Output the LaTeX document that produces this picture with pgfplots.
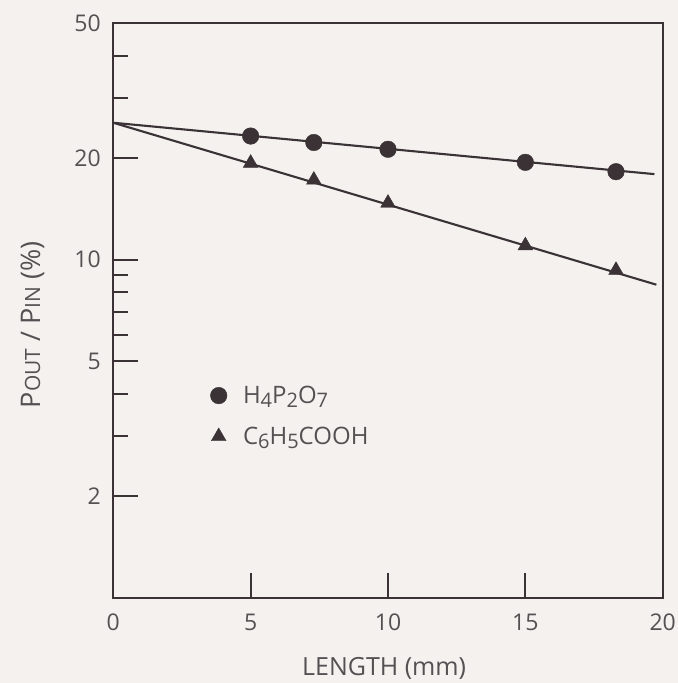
\documentclass[border=0pt]{standalone}
\usepackage{pgfplots}
\pgfplotsset{compat=1.18}
\usepackage{fontspec}
\setmainfont{Open Sans}

\definecolor{paper}{HTML}{F4F1EF}
\definecolor{ink}{HTML}{3A3235}
\definecolor{txt}{HTML}{555152}
\newcommand{\tickfont}{\fontsize{23bp}{27bp}\selectfont}
\newcommand{\lblfont}{\fontsize{25bp}{29bp}\selectfont}
\newcommand{\ylblfont}{\fontsize{27bp}{31bp}\selectfont}
\newcommand{\legfont}{\fontsize{24bp}{28bp}\selectfont}
% chemical subscript: nearly full size, dropped below the baseline
\newcommand{\chem}[1]{\raisebox{-0.3ex}{\fontsize{20bp}{22bp}\selectfont #1}}
\newcommand{\smc}[1]{{\fontsize{21bp}{24bp}\selectfont #1}}

% measured points
\pgfplotstableread{
x    y
5    23.2
7.3  22.2
10   21.2
15   19.4
18.3 18.2
}\pyro
\pgfplotstableread{
x    y
5    19.3
7.3  17.2
10   14.7
15   11.0
18.3 9.3
}\benz

\begin{document}
\begin{tikzpicture}
\fill[paper] (-113.3bp,-85.3bp) rectangle (564.7bp,597.7bp);
\begin{axis}[
  at={(0,0)}, anchor=south west,
  scale only axis,
  width=549.4bp, height=574.4bp,
  xmin=0, xmax=20,
  ymode=log, ymin=1, ymax=50,
  xtick={0,5,10,15,20},
  ytick={2,5,10,20,50}, yticklabels={2,5,10,20,50},
  minor ytick={3,4,6,7,8,9,30,40},
  tick pos=left, tick align=inside,
  major tick length=25bp, minor tick length=15bp,
  axis line style={ink, line width=1.8bp},
  major tick style={ink, line width=1.8bp},
  minor tick style={ink, line width=1.8bp},
  /pgf/number format/assume math mode=true,
  tick label style={font=\tickfont, text=txt},
  xticklabel style={yshift=-13bp},
  yticklabel style={xshift=-9bp},
  xlabel={LENGTH (mm)},
  ylabel={P\smc{OUT} / P\smc{IN} (\%)},
  xlabel style={font=\lblfont, text=txt, at={(axis description cs:0.493,-0.1224)}, anchor=center},
  ylabel style={font=\ylblfont, text=txt, at={(axis description cs:-0.147,0.475)}, anchor=center},
  legend cell align=left,
  legend style={at={(axis description cs:0.1764,0.3163)}, anchor=west,
    draw=none, fill=none, font=\legfont, text=txt,
    row sep=18bp, inner sep=0pt,
    /tikz/every odd column/.append style={column sep=14bp}},
]
\addplot[only marks, mark=*, mark size=8.3bp, ink] table[x=x, y=y] {\pyro};
\addlegendentry{H\chem{4}P\chem{2}O\chem{7}}
\addplot[only marks, mark=triangle*, mark size=8.5bp, ink] table[x=x, y=y] {\benz};
\addlegendentry{C\chem{6}H\chem{5}COOH}
% fitted attenuation lines
\addplot[ink, line width=2.1bp, forget plot] coordinates {(0,25.4) (19.7,17.9)};
\addplot[ink, line width=2.1bp, forget plot] coordinates {(0,25.4) (19.77,8.43)};
\end{axis}
\pgfresetboundingbox
\path[use as bounding box] (-113.3bp,-85.3bp) rectangle (564.7bp,597.7bp);
\end{tikzpicture}
\end{document}
